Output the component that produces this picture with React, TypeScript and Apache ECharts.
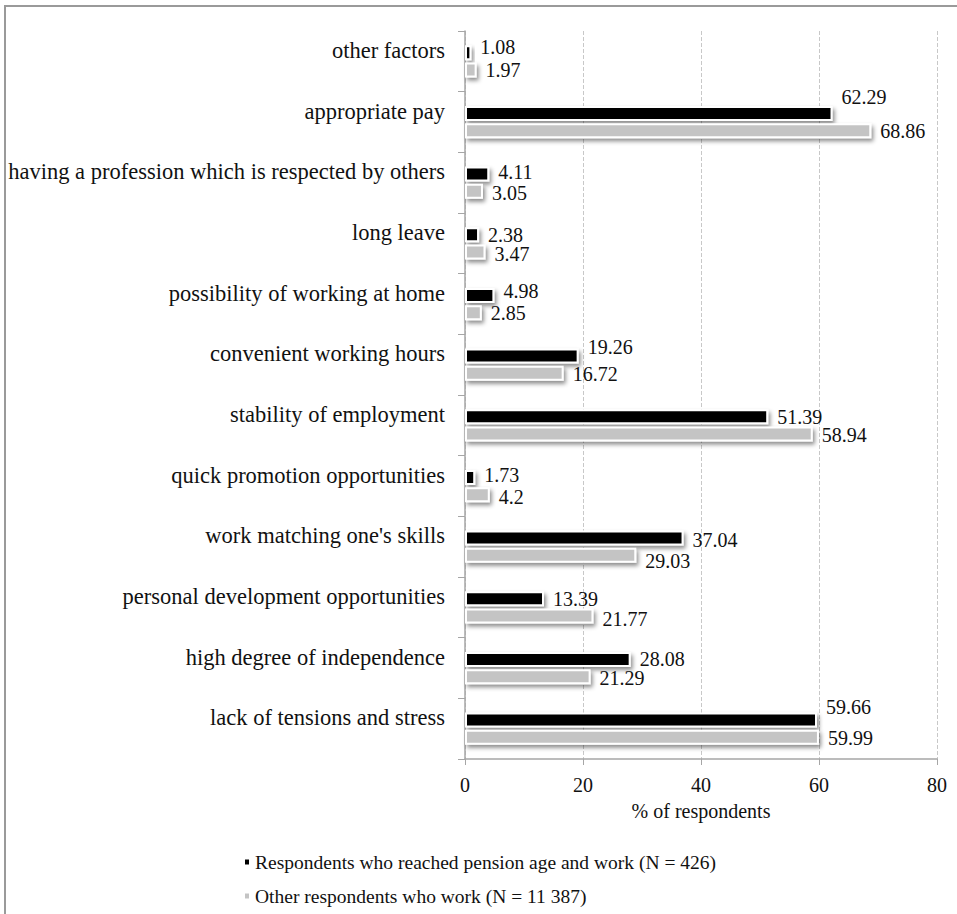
import React, { useEffect, useRef } from "react";
import * as echarts from "echarts";

const categories = [
  "other factors",
  "appropriate pay",
  "having a profession which is respected by others",
  "long leave",
  "possibility of working at home",
  "convenient working hours",
  "stability of employment",
  "quick promotion opportunities",
  "work matching one's skills",
  "personal development opportunities",
  "high degree of independence",
  "lack of tensions and stress",
];

const pensionAge = [1.08, 62.29, 4.11, 2.38, 4.98, 19.26, 51.39, 1.73, 37.04, 13.39, 28.08, 59.66];
const otherRespondents = [1.97, 68.86, 3.05, 3.47, 2.85, 16.72, 58.94, 4.2, 29.03, 21.77, 21.29, 59.99];

const pensionLabelDy = [-6, -16, -2, 0, -4, -9, 0, -2, 2, 0, 0, -13];
const otherLabelDy = [0, 0, 2, 2, 0, 1, 1, 2, 6, 3, 1, 1];

const xTicks = { min: 0, max: 80, interval: 20 };

const seriesNames = [
  "Respondents who reached pension age and work (N = 426)",
  "Other respondents who work (N = 11 387)",
];

const FONT = "Liberation Serif";

export default function App() {
  const ref = useRef<HTMLDivElement>(null);
  useEffect(() => {
    if (!ref.current) return;
    const chart = echarts.init(ref.current, undefined, { renderer: "svg" });
    const itemStyleBase = {
      borderColor: "#ffffff",
      borderWidth: 2,
      shadowColor: "rgba(0,0,0,0.45)",
      shadowBlur: 4,
      shadowOffsetX: 2,
      shadowOffsetY: 3,
    };
    const labelBase = {
      show: true,
      position: "right" as const,
      distance: 9,
      fontFamily: FONT,
      fontSize: 20,
      color: "#111",
    };
    chart.setOption({
      animation: false,
      textStyle: { fontFamily: FONT },
      grid: { left: 465, right: 20, top: 31, bottom: 155, containLabel: false },
      xAxis: {
        type: "value",
        min: xTicks.min,
        max: xTicks.max,
        interval: xTicks.interval,
        name: "% of respondents",
        nameLocation: "middle",
        nameGap: 42,
        nameTextStyle: { fontFamily: FONT, fontSize: 20, color: "#111" },
        axisLine: { show: true, lineStyle: { color: "#a6a6a6", width: 1.5 } },
        axisTick: { show: true, length: 6, lineStyle: { color: "#a6a6a6" } },
        axisLabel: { fontFamily: FONT, fontSize: 20, color: "#111", margin: 16 },
        splitLine: { show: true, lineStyle: { color: "#c8c8c8", type: "dashed", width: 1 } },
      },
      yAxis: {
        type: "category",
        inverse: true,
        data: categories,
        axisLine: { show: true, lineStyle: { color: "#a6a6a6", width: 1.5 } },
        axisTick: { show: true, length: 7, lineStyle: { color: "#a6a6a6" } },
        axisLabel: {
          fontFamily: FONT,
          fontSize: 22.5,
          lineHeight: 22,
          color: "#111",
          margin: 20,
          verticalAlign: "bottom",
        },
      },
      legend: {
        orient: "vertical",
        left: 238,
        top: 847,
        itemWidth: 6,
        itemHeight: 7,
        itemGap: 14,
        icon: "rect",
        textStyle: { fontFamily: FONT, fontSize: 19.5, color: "#111" },
        data: seriesNames,
      },
      graphic: [
        { type: "line", shape: { x1: 5, y1: 6, x2: 5, y2: 914 }, style: { stroke: "#9a9a9a", lineWidth: 2 } },
        { type: "line", shape: { x1: 4, y1: 6, x2: 957, y2: 6 }, style: { stroke: "#9a9a9a", lineWidth: 2 } },
      ],
      series: [
        {
          name: seriesNames[0],
          type: "bar",
          barWidth: 15,
          barGap: "15%",
          itemStyle: { ...itemStyleBase, color: "#000000" },
          data: pensionAge.map((v, i) => ({
            value: v,
            label: { ...labelBase, offset: [0, pensionLabelDy[i]] },
          })),
        },
        {
          name: seriesNames[1],
          type: "bar",
          barWidth: 15,
          barGap: "15%",
          itemStyle: { ...itemStyleBase, color: "#c4c4c4" },
          data: otherRespondents.map((v, i) => ({
            value: v,
            label: { ...labelBase, offset: [0, otherLabelDy[i]] },
          })),
        },
      ],
    });
    return () => chart.dispose();
  }, []);
  return (
    <div
      ref={ref}
      style={{ position: "fixed", left: 0, top: 0, width: 957, height: 914, background: "#fff" }}
    />
  );
}
